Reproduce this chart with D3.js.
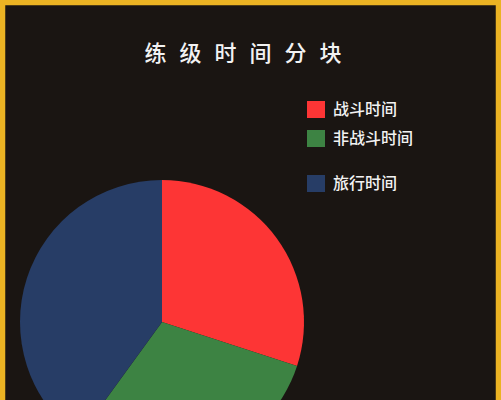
<!DOCTYPE html>
<html>
<head>
<meta charset="utf-8">
<script src="https://cdn.jsdelivr.net/npm/d3@7"></script>
<style>
  body { margin: 0; background: #1a1512; }
  svg { display: block; }
</style>
</head>
<body>
<svg id="chart"></svg>
<script>
// chart data
var categories = ["战斗时间", "非战斗时间", "旅行时间"];
var values = [30, 30, 40];
var colors = ["#fd3535", "#3d8343", "#273d66"];
var title = "练级时间分块";

var width = 501, height = 400;
var svg = d3.select("#chart")
    .attr("width", width)
    .attr("height", height);

// background + gold frame (bottom runs off the picture)
svg.append("rect")
    .attr("x", 0).attr("y", 0)
    .attr("width", width).attr("height", height)
    .attr("fill", "#1a1512");
svg.append("rect")
    .attr("x", 2.5).attr("y", 2.5)
    .attr("width", width - 5).attr("height", height + 20)
    .attr("fill", "none")
    .attr("stroke", "#ebb323")
    .attr("stroke-width", 5.5);

// title, spaced characters
svg.append("text")
    .attr("x", 243 + 6.5)
    .attr("y", 61)
    .attr("text-anchor", "middle")
    .attr("fill", "#f2f2f2")
    .style("font-family", "'Noto Sans CJK SC', sans-serif")
    .style("font-size", "22px")
    .style("font-weight", "500")
    .style("letter-spacing", "13px")
    .text(title);

// pie
var cx = 162, cy = 322, r = 142;
var pie = d3.pie().sort(null).value(function (d) { return d; });
var arc = d3.arc().innerRadius(0).outerRadius(r);

var g = svg.append("g").attr("transform", "translate(" + cx + "," + cy + ")");
g.selectAll("path")
    .data(pie(values))
    .enter()
    .append("path")
    .attr("d", arc)
    .attr("fill", function (d, i) { return colors[i]; });

// legend - the last entry sits a bit lower
var legendY = d3.scaleOrdinal()
    .domain(categories)
    .range([109.5, 138.5, 183.5]);

var legend = svg.selectAll(".legend")
    .data(categories)
    .enter()
    .append("g")
    .attr("class", "legend")
    .attr("transform", function (d) { return "translate(307," + legendY(d) + ")"; });

legend.append("rect")
    .attr("x", 0)
    .attr("y", -8.5)
    .attr("width", 18)
    .attr("height", 17)
    .attr("fill", function (d, i) { return colors[i]; });

legend.append("text")
    .attr("x", 26)
    .attr("y", 0)
    .attr("dy", "0.36em")
    .attr("fill", "#f2f2f2")
    .style("font-family", "'Noto Sans CJK SC', sans-serif")
    .style("font-size", "16px")
    .style("font-weight", "500")
    .text(function (d) { return d; });
</script>
</body>
</html>
